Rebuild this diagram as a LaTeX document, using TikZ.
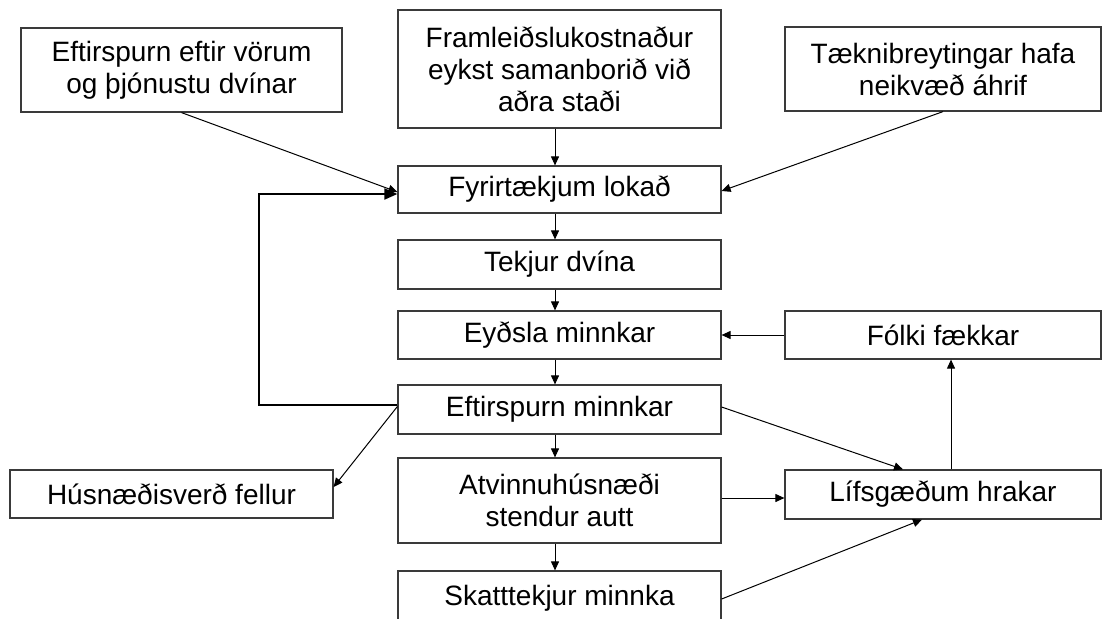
\documentclass[tikz,border=0pt]{standalone}
\usepackage{fontspec}
\setmainfont{Liberation Sans}
\usetikzlibrary{arrows.meta,calc}
\definecolor{boxline}{HTML}{3A3A3A}
\tikzset{
  box/.style={draw=boxline, line width=1.2pt, inner sep=0pt, align=center,
    font=\fontsize{28}{32}\selectfont, text=black},
  conn/.style={draw=black, line width=1pt, -{Triangle[length=9pt,width=8pt]}},
  fb/.style={draw=black, line width=2pt, -{Triangle[length=13pt,width=11pt]}},
}
\begin{document}
\begin{tikzpicture}[x=1pt,y=-1pt]
\useasboundingbox (0,0) rectangle (1102,618);
% boxes
\node[box, minimum width=321pt, minimum height=84pt] (tl) at (181.5,70) {Eftirspurn eftir vörum\\og þjónustu dvínar};
\node[box, minimum width=323pt, minimum height=118pt] (tc) at (559.5,69) {Framleiðslukostnaður\\eykst samanborið við\\aðra staði};
\node[box, minimum width=316pt, minimum height=84pt] (tr) at (943,69) {Tæknibreytingar hafa\\neikvæð áhrif};
\node[box, minimum width=323pt, minimum height=47pt] (fyr) at (559.5,189.5) {Fyrirtækjum lokað};
\node[box, minimum width=323pt, minimum height=49pt] (tek) at (559.5,264.5) {Tekjur dvína};
\node[box, minimum width=323pt, minimum height=48pt] (eyd) at (559.5,335) {Eyðsla minnkar};
\node[box, minimum width=323pt, minimum height=49pt] (eft) at (559.5,409.5) {Eftirspurn minnkar};
\node[box, minimum width=323pt, minimum height=85pt] (atv) at (559.5,500.5) {Atvinnuhúsnæði\\stendur autt};
\node[box, minimum width=323pt, minimum height=54pt] (ska) at (559.5,598) {\raisebox{3pt}{Skatttekjur minnka}};
\node[box, minimum width=316pt, minimum height=48pt] (fol) at (943,335) {Fólki fækkar};
\node[box, minimum width=316pt, minimum height=49pt] (lif) at (943,494.5) {Lífsgæðum hrakar};
\node[box, minimum width=323pt, minimum height=48pt] (hus) at (171.5,494) {Húsnæðisverð fellur};
% helper coordinates
\coordinate (ax) at (555,0);
\coordinate (vx) at (951,0);
\coordinate (fbx) at (259,0);
\coordinate (h) at (0,498);
\coordinate (sk) at (0,599);
\coordinate (fbA) at ([yshift=4.5pt]eft.west);
\coordinate (fbB) at ([yshift=-4.5pt]fyr.west);
% connectors
\draw[conn] (tl.south) -- ([yshift=-2.5pt]fyr.west);
\draw[conn] (tr.south) -- ([yshift=-1.5pt]fyr.east);
\draw[conn] (tc.south -| ax) -- (fyr.north -| ax);
\draw[conn] (fyr.south -| ax) -- (tek.north -| ax);
\draw[conn] (tek.south -| ax) -- (eyd.north -| ax);
\draw[conn] (eyd.south -| ax) -- (eft.north -| ax);
\draw[conn] (eft.south -| ax) -- (atv.north -| ax);
\draw[conn] (atv.south -| ax) -- (ska.north -| ax);
\draw[fb] (fbA) -| (fbx |- fbB) -- (fbB);
\draw[conn] ([yshift=3pt]eft.west) -- ([yshift=7pt]hus.east);
\draw[conn] ([yshift=2.5pt]eft.east) -- ([xshift=-40pt]lif.north);
\draw[conn] (atv.east |- h) -- (lif.west |- h);
\draw[conn] (ska.east |- sk) -- ([xshift=-21pt]lif.south);
\draw[conn] (lif.north -| vx) -- (fol.south -| vx);
\draw[conn] (fol.west) -- (eyd.east);
\end{tikzpicture}
\end{document}
